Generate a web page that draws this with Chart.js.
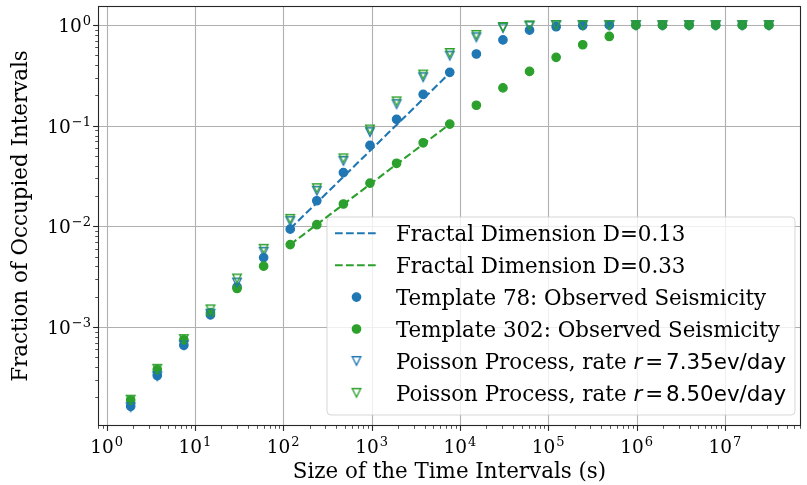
<!DOCTYPE html>
<html>
<head>
<meta charset="utf-8">
<script src="https://cdn.jsdelivr.net/npm/chart.js@4"></script>
<style>
  html, body { margin: 0; padding: 0; background: #ffffff; }
  #wrap { width: 807px; height: 485px; }
</style>
</head>
<body>
<div id="wrap"><canvas id="chart" width="807" height="485"></canvas></div>
<script>
// Interval sizes (s): 120 s scaled by powers of two
const intervals = [1.875, 3.75, 7.5, 15, 30, 60, 120, 240, 480, 960, 1920, 3840, 7680,
  15360, 30720, 61440, 122880, 245760, 491520, 983040, 1966080, 3932160, 7864320,
  15728640, 31457280];

// Fraction of occupied intervals, observed seismicity
const template78 = [1.63e-4, 3.3e-4, 6.6e-4, 1.32e-3, 2.5e-3, 4.9e-3, 9.4e-3, 0.018, 0.0343,
  0.0638, 0.116, 0.205, 0.340, 0.517, 0.713, 0.892, 0.965, 0.993, 1.0, 1.0, 1.0, 1.0, 1.0, 1.0, 1.0];
const template302 = [1.88e-4, 3.78e-4, 7.47e-4, 1.39e-3, 2.42e-3, 4.03e-3, 6.6e-3, 0.0104, 0.0167,
  0.0269, 0.0424, 0.0678, 0.104, 0.160, 0.238, 0.347, 0.479, 0.639, 0.772, 1.0, 1.0, 1.0, 1.0, 1.0, 1.0];

// Fraction of occupied intervals, Poisson processes
const poisson735 = [1.6e-4, 3.25e-4, 6.6e-4, 1.36e-3, 2.77e-3, 5.6e-3, 0.0113, 0.0226, 0.0448,
  0.0865, 0.164, 0.304, 0.498, 0.758, 0.935, 0.985, 1.0, 1.0, 1.0, 1.0, 1.0, 1.0, 1.0, 1.0, 1.0];
const poisson850 = [1.9e-4, 3.85e-4, 7.6e-4, 1.5e-3, 3.04e-3, 6.0e-3, 0.0119, 0.024, 0.0475,
  0.092, 0.175, 0.323, 0.529, 0.80, 0.96, 0.995, 1.0, 1.0, 1.0, 1.0, 1.0, 1.0, 1.0, 1.0, 1.0];

// Power-law fits over the scaling range
const fitRange = [120, 7680];
const fit78 = [0.0095, 0.335];
const fit302 = [0.0066, 0.104];

// Decade exponents that carry tick labels
const xTickExps = [0, 1, 2, 3, 4, 5, 6, 7];
const yTickExps = [0, -1, -2, -3];

const legendLabels = [
  'Fractal Dimension D=0.13',
  'Fractal Dimension D=0.33',
  'Template 78: Observed Seismicity',
  'Template 302: Observed Seismicity',
  'Poisson Process, rate ',
  'Poisson Process, rate '
];
const rateLabels = ['7.35ev/day', '8.50ev/day'];

const BLUE = '#1f77b4';
const GREEN = '#2ca02c';
const SERIF = '"DejaVu Serif", serif';
const SANS = '"DejaVu Sans", sans-serif';
const LABEL_PX = 21.4;

const pts = (xs, ys) => xs.map((x, i) => ({ x: x, y: ys[i] }));

// Hollow down-pointing triangle marker
function triangleMarker(color) {
  const c = document.createElement('canvas');
  c.width = 14; c.height = 14;
  const g = c.getContext('2d');
  const h = 4.3, cx = 7, cy = 7;
  g.strokeStyle = color;
  g.lineWidth = 1.35;
  g.lineJoin = 'miter';
  g.beginPath();
  g.moveTo(cx - h, cy - h);
  g.lineTo(cx + h, cy - h);
  g.lineTo(cx, cy + h);
  g.closePath();
  g.stroke();
  return c;
}
const triBlue = triangleMarker(BLUE);
const triGreen = triangleMarker(GREEN);

const dash = [7.7, 3.3];

const axesDecor = {
  id: 'axesDecor',
  beforeDatasetsDraw(chart) {
    const ctx = chart.ctx, a = chart.chartArea;
    const xs = chart.scales.x, ys = chart.scales.y;
    ctx.save();
    ctx.strokeStyle = '#b0b0b0';
    ctx.lineWidth = 1.1;
    xTickExps.forEach(e => {
      const px = Math.round(xs.getPixelForValue(Math.pow(10, e))) + 0.5;
      ctx.beginPath(); ctx.moveTo(px, a.top); ctx.lineTo(px, a.bottom); ctx.stroke();
    });
    yTickExps.forEach(e => {
      const py = Math.round(ys.getPixelForValue(Math.pow(10, e))) + 0.5;
      ctx.beginPath(); ctx.moveTo(a.left, py); ctx.lineTo(a.right, py); ctx.stroke();
    });
    ctx.restore();
  },
  afterDatasetsDraw(chart) {
    const ctx = chart.ctx, a = chart.chartArea;
    const xs = chart.scales.x, ys = chart.scales.y;
    ctx.save();
    // spines
    ctx.strokeStyle = '#262626';
    ctx.lineWidth = 1.1;
    ctx.strokeRect(a.left + 0.5, a.top + 0.5, a.right - a.left - 1, a.bottom - a.top - 1);

    // tick marks, major and minor
    const xMin = xs.min, xMax = xs.max, yMin = ys.min, yMax = ys.max;
    for (let e = Math.floor(Math.log10(xMin)); e <= Math.ceil(Math.log10(xMax)); e++) {
      for (let k = 1; k <= 9; k++) {
        const v = k * Math.pow(10, e);
        if (v < xMin || v > xMax) continue;
        const px = Math.round(xs.getPixelForValue(v)) + 0.5;
        ctx.lineWidth = k === 1 ? 1.1 : 0.8;
        const len = k === 1 ? 4.9 : 2.8;
        ctx.beginPath(); ctx.moveTo(px, a.bottom); ctx.lineTo(px, a.bottom + len); ctx.stroke();
      }
    }
    for (let e = Math.floor(Math.log10(yMin)); e <= Math.ceil(Math.log10(yMax)); e++) {
      for (let k = 1; k <= 9; k++) {
        const v = k * Math.pow(10, e);
        if (v < yMin || v > yMax) continue;
        const py = Math.round(ys.getPixelForValue(v)) + 0.5;
        ctx.lineWidth = k === 1 ? 1.1 : 0.8;
        const len = k === 1 ? 4.9 : 2.8;
        ctx.beginPath(); ctx.moveTo(a.left, py); ctx.lineTo(a.left - len, py); ctx.stroke();
      }
    }

    // tick labels 10^n
    ctx.fillStyle = '#000';
    ctx.textBaseline = 'alphabetic';
    const baseFont = '18.5px ' + SERIF, supFont = '13px ' + SERIF;
    const fmtExp = e => (e < 0 ? '\u2212' + (-e) : String(e));
    xTickExps.forEach(e => {
      const px = xs.getPixelForValue(Math.pow(10, e));
      ctx.font = baseFont; const w1 = ctx.measureText('10').width;
      ctx.font = supFont; const w2 = ctx.measureText(fmtExp(e)).width;
      const x0 = px - (w1 + w2 + 1) / 2;
      ctx.textAlign = 'left';
      ctx.font = baseFont; ctx.fillText('10', x0, a.bottom + 27);
      ctx.font = supFont; ctx.fillText(fmtExp(e), x0 + w1 + 1, a.bottom + 20);
    });
    yTickExps.forEach(e => {
      const py = ys.getPixelForValue(Math.pow(10, e));
      ctx.font = supFont; const w2 = ctx.measureText(fmtExp(e)).width;
      ctx.font = baseFont; const w1 = ctx.measureText('10').width;
      const xr = a.left - 7;
      ctx.textAlign = 'left';
      ctx.font = baseFont; ctx.fillText('10', xr - w2 - 1 - w1, py + 7);
      ctx.font = supFont; ctx.fillText(fmtExp(e), xr - w2, py);
    });

    // axis titles
    ctx.font = LABEL_PX + 'px ' + SERIF;
    ctx.textAlign = 'center';
    ctx.fillText('Size of the Time Intervals (s)', (a.left + a.right) / 2, 478);
    ctx.save();
    ctx.translate(27, (a.top + a.bottom) / 2);
    ctx.rotate(-Math.PI / 2);
    ctx.fillText('Fraction of Occupied Intervals', 0, 0);
    ctx.restore();

    // legend
    const bx = 327, by = 217, bw = 468, bh = 198, r = 4;
    ctx.beginPath();
    ctx.moveTo(bx + r, by);
    ctx.arcTo(bx + bw, by, bx + bw, by + bh, r);
    ctx.arcTo(bx + bw, by + bh, bx, by + bh, r);
    ctx.arcTo(bx, by + bh, bx, by, r);
    ctx.arcTo(bx, by, bx + bw, by, r);
    ctx.closePath();
    ctx.fillStyle = 'rgba(255,255,255,0.8)';
    ctx.fill();
    ctx.strokeStyle = 'rgba(204,204,204,0.8)';
    ctx.lineWidth = 1;
    ctx.stroke();

    const rowY = i => 233.3 + i * 31.9;
    const hx0 = 335, hx1 = 377, hxc = 356.5, tx = 396;
    legendLabels.forEach((label, i) => {
      const cy = rowY(i);
      if (i < 2) {
        ctx.save();
        ctx.strokeStyle = i === 0 ? BLUE : GREEN;
        ctx.lineWidth = 2.1;
        ctx.setLineDash(dash);
        ctx.beginPath(); ctx.moveTo(hx0, cy); ctx.lineTo(hx1, cy); ctx.stroke();
        ctx.restore();
      } else if (i < 4) {
        ctx.beginPath();
        ctx.arc(hxc, cy, 4.2, 0, Math.PI * 2);
        ctx.fillStyle = i === 2 ? BLUE : GREEN;
        ctx.strokeStyle = ctx.fillStyle;
        ctx.lineWidth = 1.3;
        ctx.fill(); ctx.stroke();
      } else {
        const img = i === 4 ? triBlue : triGreen;
        ctx.drawImage(img, hxc - img.width / 2, cy - img.height / 2);
      }
      ctx.fillStyle = '#000';
      ctx.textAlign = 'left';
      ctx.font = LABEL_PX + 'px ' + SERIF;
      ctx.fillText(label, tx, cy + 7.7);
      if (i >= 4) {
        let x = tx + ctx.measureText(label).width;
        ctx.font = 'italic ' + LABEL_PX + 'px ' + SANS;
        ctx.fillText('r', x, cy + 7.7);
        x += ctx.measureText('r').width + 3;
        ctx.font = LABEL_PX + 'px ' + SANS;
        ctx.fillText('=', x, cy + 7.7);
        x += ctx.measureText('=').width + 3;
        ctx.fillText(rateLabels[i - 4], x, cy + 7.7);
      }
    });
    ctx.restore();
  }
};

new Chart(document.getElementById('chart'), {
  type: 'scatter',
  data: {
    datasets: [
      { label: legendLabels[0], data: pts(fitRange, fit78), showLine: true, borderColor: BLUE,
        borderWidth: 2.1, borderDash: dash, pointRadius: 0, order: 6 },
      { label: legendLabels[1], data: pts(fitRange, fit302), showLine: true, borderColor: GREEN,
        borderWidth: 2.1, borderDash: dash, pointRadius: 0, order: 5 },
      { label: legendLabels[2], data: pts(intervals, template78), pointStyle: 'circle',
        pointRadius: 4.2, borderWidth: 1.3, backgroundColor: BLUE, borderColor: BLUE, order: 4 },
      { label: legendLabels[3], data: pts(intervals, template302), pointStyle: 'circle',
        pointRadius: 4.2, borderWidth: 1.3, backgroundColor: GREEN, borderColor: GREEN, order: 3 },
      { label: legendLabels[4] + 'r=' + rateLabels[0], data: pts(intervals, poisson735),
        pointStyle: triBlue, pointRadius: 5, order: 2 },
      { label: legendLabels[5] + 'r=' + rateLabels[1], data: pts(intervals, poisson850),
        pointStyle: triGreen, pointRadius: 5, order: 1 }
    ]
  },
  options: {
    responsive: false,
    animation: false,
    devicePixelRatio: 1,
    layout: { padding: { left: 98, right: 1, top: 4, bottom: 59 } },
    plugins: { legend: { display: false }, tooltip: { enabled: false } },
    scales: {
      x: {
        type: 'logarithmic', min: 0.8, max: 7.27e7, bounds: 'data',
        ticks: { display: false }, grid: { display: false, drawTicks: false },
        border: { display: false },
        afterFit: s => { s.height = 0; }
      },
      y: {
        type: 'logarithmic', min: 1.04e-4, max: 1.55, bounds: 'data',
        ticks: { display: false }, grid: { display: false, drawTicks: false },
        border: { display: false },
        afterFit: s => { s.width = 0; }
      }
    }
  },
  plugins: [axesDecor]
});
</script>
</body>
</html>
